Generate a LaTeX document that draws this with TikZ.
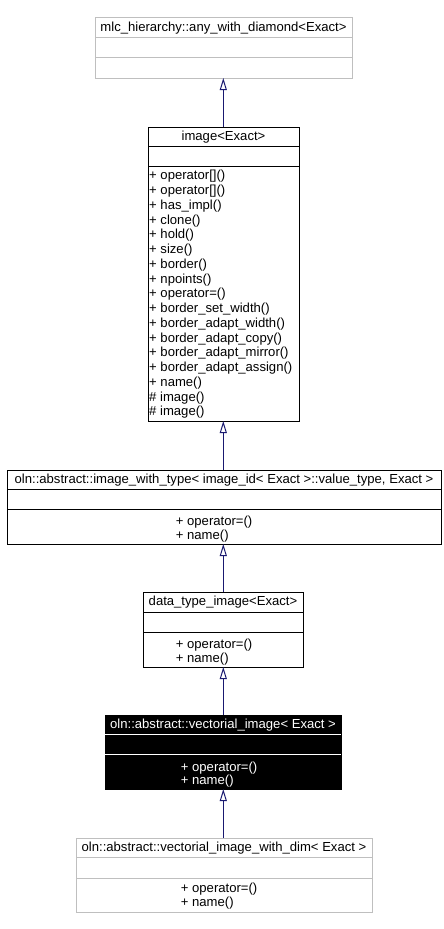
\documentclass[tikz,border=0pt]{standalone}
\usepackage{fontspec}
\setmainfont{Liberation Sans}
\usetikzlibrary{arrows.meta}
\definecolor{edgeblue}{RGB}{25,25,112}
\definecolor{grayborder}{RGB}{191,191,191}
\begin{document}
\begin{tikzpicture}[x=1pt,y=1pt,
  box/.style={draw=black, line width=1pt, fill=white, inner sep=0pt, outer sep=0pt, anchor=north west},
  graybox/.style={box, draw=grayborder},
  darkbox/.style={box, fill=black, draw=black},
  lbl/.style={inner sep=0pt, font=\fontsize{13.1}{15}\selectfont, text height=9.5pt, text depth=2.8pt},
  meth/.style={lbl, anchor=west},
  sepblack/.style={draw=black, line width=1pt},
  sepgray/.style={draw=grayborder, line width=1pt},
  sepwhite/.style={draw=white, line width=1pt},
  inh/.style={draw=edgeblue, line width=1pt, -{Triangle[open, length=12pt, width=7pt, line width=1pt]}}
]
\useasboundingbox (0,0) rectangle (444,-929);
\fill[white] (0,0) rectangle (444,-929);

% Box 1
\node[graybox, minimum width=257pt, minimum height=61pt] (b1) at (95,-17) {};
\draw[sepgray] (95,-37.7) -- (352,-37.7);
\draw[sepgray] (95,-57.7) -- (352,-57.7);
\node[lbl] (t1) at (223.5,-28) {mlc\_hierarchy::any\_with\_diamond<Exact>};

% Box 2
\node[box, minimum width=151pt, minimum height=294pt] (b2) at (148,-127) {};
\draw[sepblack] (148,-146) -- (299,-146);
\draw[sepblack] (148,-166) -- (299,-166);
\node[lbl] (t2) at (223.5,-137.5) {image<Exact>};
\foreach \m [count=\i from 0] in {+ operator[](),+ operator[](),+ has\_impl(),+ clone(),+ hold(),+ size(),+ border(),+ npoints(),+ operator=(),+ border\_set\_width(),+ border\_adapt\_width(),+ border\_adapt\_copy(),+ border\_adapt\_mirror(),+ border\_adapt\_assign(),+ name(),\# image(),\# image()}
  \node[meth] (m2-\i) at (149,-176.5-14.75*\i) {\m};

% Box 3
\node[box, minimum width=434pt, minimum height=74pt] (b3) at (7,-470) {};
\draw[sepblack] (7,-489) -- (441,-489);
\draw[sepblack] (7,-509) -- (441,-509);
\node[lbl] (t3) at (224,-480) {oln::abstract::image\_with\_type< image\_id< Exact >::value\_type, Exact >};
\node[meth] (m3a) at (175.7,-522.5) {+ operator=()};
\node[meth] (m3b) at (175.7,-536.5) {+ name()};

% Box 4
\node[box, minimum width=160pt, minimum height=75pt] (b4) at (143,-592) {};
\draw[sepblack] (143,-612.3) -- (303,-612.3);
\draw[sepblack] (143,-632.3) -- (303,-632.3);
\node[lbl] (t4) at (223,-602.5) {data\_type\_image<Exact>};
\node[meth] (m4a) at (175.7,-645.5) {+ operator=()};
\node[meth] (m4b) at (175.7,-659) {+ name()};

% Box 5
\node[darkbox, minimum width=236pt, minimum height=74pt] (b5) at (105,-715) {};
\draw[sepwhite] (105,-734.3) -- (341,-734.3);
\draw[sepwhite] (105,-754.3) -- (341,-754.3);
\node[lbl, text=white] (t5) at (223,-725) {oln::abstract::vectorial\_image< Exact >};
\node[meth, text=white] (m5a) at (180.7,-767.8) {+ operator=()};
\node[meth, text=white] (m5b) at (180.7,-781) {+ name()};

% Box 6
\node[graybox, minimum width=296pt, minimum height=74.5pt] (b6) at (76,-838) {};
\draw[sepgray] (76,-857.3) -- (372,-857.3);
\draw[sepgray] (76,-878.3) -- (372,-878.3);
\node[lbl] (t6) at (224,-848) {oln::abstract::vectorial\_image\_with\_dim< Exact >};
\node[meth] (m6a) at (180.7,-889.5) {+ operator=()};
\node[meth] (m6b) at (180.7,-903) {+ name()};

% Inheritance arrows
\draw[inh] (b2.north -| 223.3,0) -- (b1.south -| 223.3,0);
\draw[inh] (b3.north -| 223.3,0) -- (b2.south -| 223.3,0);
\draw[inh] (b4.north -| 223.3,0) -- (b3.south -| 223.3,0);
\draw[inh] (b5.north -| 223.3,0) -- (b4.south -| 223.3,0);
\draw[inh] (b6.north -| 223.3,0) -- (b5.south -| 223.3,0);
\end{tikzpicture}
\end{document}
